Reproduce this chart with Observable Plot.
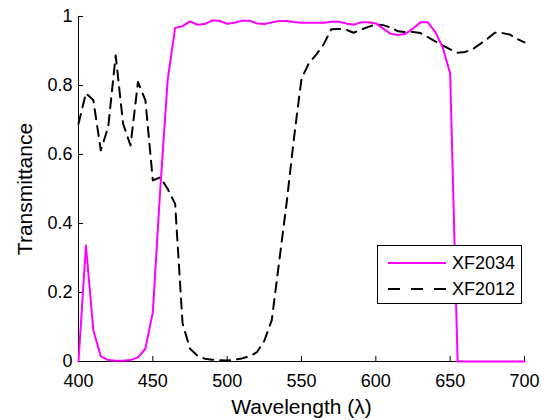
<!DOCTYPE html>
<html><head><meta charset="utf-8">
<script src="https://cdn.jsdelivr.net/npm/d3@7"></script>
<script src="https://cdn.jsdelivr.net/npm/@observablehq/plot@0.6"></script>
<style>
body{margin:0;background:#fff;}
#wrap{position:relative;width:550px;height:420px;font-family:"Liberation Sans",Arial,sans-serif;}
#legend{position:absolute;left:377px;top:245px;width:145px;height:59px;border:1px solid #000;background:#fff;box-sizing:border-box;}
.item{position:absolute;left:0;height:20px;width:140px;}
.item svg{position:absolute;left:10px;top:0;}
.item span{position:absolute;left:74px;top:0;font-size:18px;line-height:20px;color:#000;}
</style></head><body><div id="wrap"></div>
<script>
const wavelength = [400,405,410,415,420,425,430,435,440,445,450,455,460,465,470,475,480,485,490,495,500,505,510,515,520,525,530,535,540,545,550,555,560,565,570,575,580,585,590,595,600,605,610,615,620,625,630,635,640,645,650,655,660,665,670,675,680,685,690,695,700];
const xf2034 = [0,0.336,0.09,0.015,0.004,0.002,0.002,0.004,0.012,0.037,0.143,0.5,0.817,0.967,0.972,0.986,0.976,0.978,0.989,0.987,0.979,0.982,0.988,0.988,0.98,0.978,0.983,0.987,0.987,0.984,0.982,0.982,0.982,0.982,0.985,0.985,0.98,0.976,0.983,0.983,0.98,0.965,0.95,0.946,0.95,0.965,0.983,0.983,0.955,0.91,0.835,0,0,0,0,0,0,0,0,0,0];
const xf2012 = [0.689,0.778,0.757,0.612,0.68,0.887,0.689,0.626,0.81,0.757,0.525,0.534,0.5,0.457,0.11,0.037,0.017,0.008,0.005,0.004,0.003,0.005,0.009,0.015,0.027,0.06,0.12,0.29,0.46,0.65,0.82,0.865,0.89,0.92,0.963,0.964,0.962,0.953,0.962,0.97,0.977,0.975,0.968,0.957,0.955,0.955,0.952,0.94,0.928,0.916,0.905,0.895,0.897,0.905,0.92,0.935,0.953,0.952,0.948,0.935,0.925];
const seriesNames = ["XF2034","XF2012"];
const seriesColors = ["#ff00ff","#000000"];
const xTicks = [400,450,500,550,600,650,700];
const yTicks = [0,0.2,0.4,0.6,0.8,1];

const rows2034 = wavelength.map((w,i)=>({w, t: xf2034[i]}));
const rows2012 = wavelength.map((w,i)=>({w, t: xf2012[i]}));

const W = 550, H = 420, mL = 78, mR = 26, mT = 16, mB = 59;
const chart = Plot.plot({
  width: W, height: H,
  marginLeft: mL, marginRight: mR, marginTop: mT, marginBottom: mB,
  style: {fontFamily: '"Liberation Sans", Arial, sans-serif', background: "#fff", color: "#000"},
  x: {domain: [400,700]},
  y: {domain: [0,1]},
  marks: [
    Plot.axisX({ticks: xTicks, tickSize: 0, tickPadding: 13, fontSize: 18, tickFormat: d => String(d),
      label: "Wavelength (λ)", labelAnchor: "center", labelOffset: 52, labelArrow: "none"}),
    Plot.axisY({ticks: yTicks, tickSize: 0, tickPadding: 6, fontSize: 18, tickFormat: d => String(d),
      label: "Transmittance", labelAnchor: "center", labelOffset: 61, labelArrow: "none"}),
    Plot.ruleY([0], {stroke: "#000", strokeWidth: 1}),
    Plot.ruleX([400], {stroke: "#000", strokeWidth: 1}),
    Plot.tickX(xTicks, {x: d => d, insetTop: H - mT - mB - 5, stroke: "#000"}),
    Plot.tickY(yTicks, {y: d => d, insetRight: W - mL - mR - 5, stroke: "#000"}),
    Plot.line(rows2012, {x: "w", y: "t", stroke: seriesColors[1], strokeWidth: 2, strokeDasharray: "10,7"}),
    Plot.line(rows2034, {x: "w", y: "t", stroke: seriesColors[0], strokeWidth: 2})
  ]
});
chart.querySelectorAll("g[aria-label='x-axis label'] text, g[aria-label='y-axis label'] text").forEach(t => t.setAttribute("font-size", "21"));
const wrap = document.getElementById("wrap");
wrap.appendChild(chart);

const legend = document.createElement("div");
legend.id = "legend";
seriesNames.forEach((name, i) => {
  const item = document.createElement("div");
  item.className = "item";
  item.style.top = (7 + i * 26) + "px";
  const dash = i === 1 ? ' stroke-dasharray="12,11"' : '';
  item.innerHTML = `<svg width="60" height="20"><line x1="0" y1="10" x2="58" y2="10" stroke="${seriesColors[i]}" stroke-width="2"${dash}/></svg><span>${name}</span>`;
  legend.appendChild(item);
});
wrap.appendChild(legend);
</script>
</body></html>
